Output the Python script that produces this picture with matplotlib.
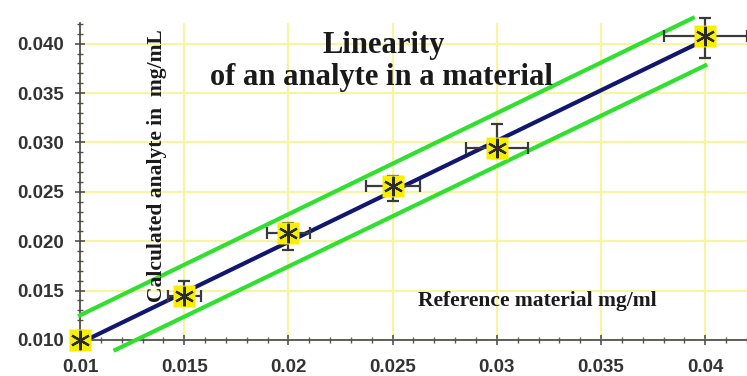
import numpy as np
import matplotlib.pyplot as plt

plt.rcParams['font.family'] = ['Liberation Sans', 'DejaVu Sans']

# reference vs calculated concentration (mg/mL)
ref_conc = [0.010, 0.015, 0.020, 0.025, 0.030, 0.040]
calc_conc = [0.0100, 0.0145, 0.0208, 0.0256, 0.0294, 0.0408]
x_err = [0.0, 0.0008, 0.00105, 0.0013, 0.0015, 0.0020]
y_err_lo = [0.0, 0.0008, 0.0017, 0.0015, 0.0010, 0.0022]
y_err_hi = [0.0, 0.0015, 0.0010, 0.0010, 0.0025, 0.0018]

# regression line and confidence band end points
fit_x = [0.0102, 0.0397]
fit_y = [0.0099, 0.0401]
upper_x = [0.0100, 0.0394]
upper_y = [0.0125, 0.0426]
lower_x = [0.0117, 0.0400]
lower_y = [0.0090, 0.0378]

x_ticks = [0.010, 0.015, 0.020, 0.025, 0.030, 0.035, 0.040]
x_tick_labels = ['0.01', '0.015', '0.02', '0.025', '0.03', '0.035', '0.04']
y_ticks = [0.010, 0.015, 0.020, 0.025, 0.030, 0.035, 0.040]
y_tick_labels = ['0.010', '0.015', '0.020', '0.025', '0.030', '0.035', '0.040']

fig = plt.figure(figsize=(7.47, 3.76), dpi=100)
ax = fig.add_axes([80 / 747, 36 / 376, 667 / 747, 317 / 376])
ax.set_xlim(0.010, 0.0420)
ax.set_ylim(0.010, 0.0421)

ax.grid(True, which='major', color='#f6f6a2', lw=1.6)
ax.set_axisbelow(True)

ax.plot(upper_x, upper_y, color='#2fe02f', lw=3, clip_on=False, zorder=3)
ax.plot(lower_x, lower_y, color='#2fe02f', lw=3, clip_on=False, zorder=3)
ax.plot(fit_x, fit_y, color='#111670', lw=3, clip_on=False, zorder=3)

ax.errorbar(ref_conc, calc_conc, xerr=x_err, yerr=[y_err_lo, y_err_hi],
            fmt='none', ecolor='#3a3a3a', elinewidth=1.6, capsize=4.5,
            capthick=1.6, clip_on=False, zorder=4)
ax.plot(ref_conc, calc_conc, 's', color='#f7ee00', ms=16.5, mec='none',
        clip_on=False, zorder=5)
ax.plot(ref_conc, calc_conc, marker=(6, 2, 0), ls='none', color='#2a2a2a',
        ms=14, mew=1.6, clip_on=False, zorder=6)

for side in ['top', 'right']:
    ax.spines[side].set_visible(False)
for side in ['left', 'bottom']:
    ax.spines[side].set_color('#444444')
    ax.spines[side].set_linewidth(1.2)

ax.set_xticks(x_ticks)
ax.set_xticklabels(x_tick_labels, fontweight='bold', color='#333333', fontsize=13.5)
ax.set_yticks(y_ticks)
ax.set_yticklabels(y_tick_labels, fontweight='bold', color='#333333', fontsize=13.5)
ax.set_xticks(np.arange(0.010, 0.0421, 0.001), minor=True)
ax.set_yticks(np.arange(0.010, 0.0421, 0.001), minor=True)
ax.tick_params(axis='both', which='major', direction='inout', length=7,
               width=1.1, color='#444444')
ax.tick_params(axis='both', which='minor', direction='inout', length=4,
               width=1.0, color='#555555')
ax.tick_params(axis='x', which='major', pad=10)
ax.tick_params(axis='y', which='major', pad=8)

serif = ['Liberation Serif', 'DejaVu Serif']
fig.text(0.514, 0.859, 'Linearity', family=serif, fontweight='bold',
         fontsize=22, ha='center', va='baseline', color='#1a1a1a')
fig.text(0.511, 0.774, 'of an analyte in a material', family=serif,
         fontweight='bold', fontsize=22, ha='center', va='baseline',
         color='#1a1a1a')
fig.text(0.7195, 0.186, 'Reference material mg/ml', family=serif,
         fontweight='bold', fontsize=15.5, ha='center', va='baseline',
         color='#1a1a1a')
fig.text(0.210, 0.56, 'Calculated analyte in  mg/mL', family=serif,
         fontweight='bold', fontsize=15.5, rotation=90, ha='center',
         va='center', color='#1a1a1a')

fig.savefig('out.png', dpi=100)
